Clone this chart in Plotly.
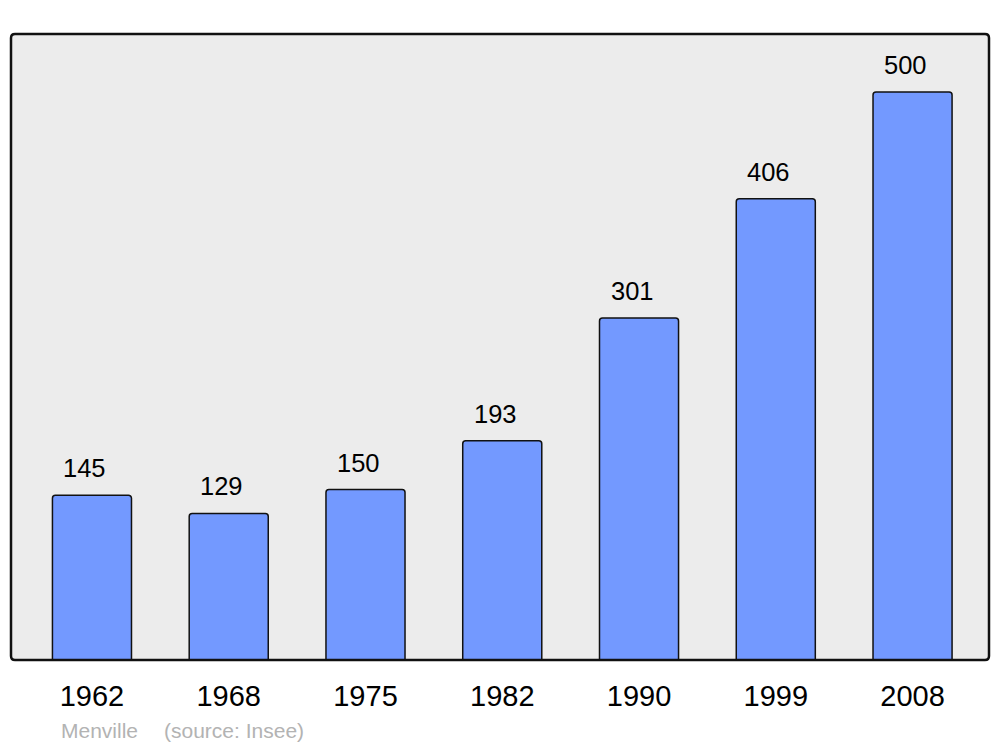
import plotly.graph_objects as go

years = ["1962", "1968", "1975", "1982", "1990", "1999", "2008"]
population = [145, 129, 150, 193, 301, 406, 500]
commune = "Menville"
source = "(source: Insee)"


def rounded_frame(r_x, r_y):
    # frame around the plot area, in paper units, with small rounded corners
    return (f"M {r_x},0 L {1 - r_x},0 Q 1,0 1,{r_y} L 1,{1 - r_y} Q 1,1 {1 - r_x},1 "
            f"L {r_x},1 Q 0,1 0,{1 - r_y} L 0,{r_y} Q 0,0 {r_x},0 Z")


def main():

    fig = go.Figure()

    fig.add_trace(go.Bar(
                         x            = years,
                         y            = population,
                         width        = 0.578,
                         marker       = dict(color="#7399ff",
                                             line=dict(color="#111111", width=1.5),
                                             cornerradius=3),
                         hoverinfo    = "x+y",
                         showlegend   = False,
                         ))

    for i, val in enumerate(population):
        fig.add_annotation(x=i, y=val, text=str(val), showarrow=False,
                           xanchor="center", yanchor="bottom", xshift=-7, yshift=11,
                           font=dict(family="Liberation Sans, Arial", size=25.5, color="#000000"))

    fig.add_annotation(xref="paper", yref="paper", x=(59 - 11) / 978, y=-(730 - 660) / 626,
                       text=commune, showarrow=False, xanchor="left", yanchor="middle",
                       font=dict(family="Liberation Sans, Arial", size=21, color="#b3b3b3"))
    fig.add_annotation(xref="paper", yref="paper", x=(162 - 11) / 978, y=-(730 - 660) / 626,
                       text=source, showarrow=False, xanchor="left", yanchor="middle",
                       font=dict(family="Liberation Sans, Arial", size=21, color="#b3b3b3"))

    fig.add_shape(type="path", xref="paper", yref="paper",
                  path=rounded_frame(4 / 978, 4 / 626),
                  line=dict(color="#111111", width=2.5), layer="above")

    # page body has an 8px margin, so the figure sits 8px right and down
    fig.update_layout(
                      width         = 1000,
                      height        = 747,
                      margin        = dict(l=3, r=19, t=26, b=95),
                      paper_bgcolor = "#ffffff",
                      plot_bgcolor  = "#ececec",
                      font          = dict(family="Liberation Sans, Arial", color="#000000"),
                      xaxis         = dict(
                                           type="category",
                                           range=[-0.592, 6.559],
                                           showgrid=False,
                                           zeroline=False,
                                           showline=False,
                                           ticks="outside",
                                           ticklen=10,
                                           tickcolor="rgba(0,0,0,0)",
                                           tickfont=dict(size=29, color="#000000"),
                                           ),
                      yaxis         = dict(
                                           range=[0, 551],
                                           showgrid=False,
                                           zeroline=False,
                                           showline=False,
                                           showticklabels=False,
                                           ),
                      )

    fig.write_html("out.html")


if __name__ == '__main__':

    main()
